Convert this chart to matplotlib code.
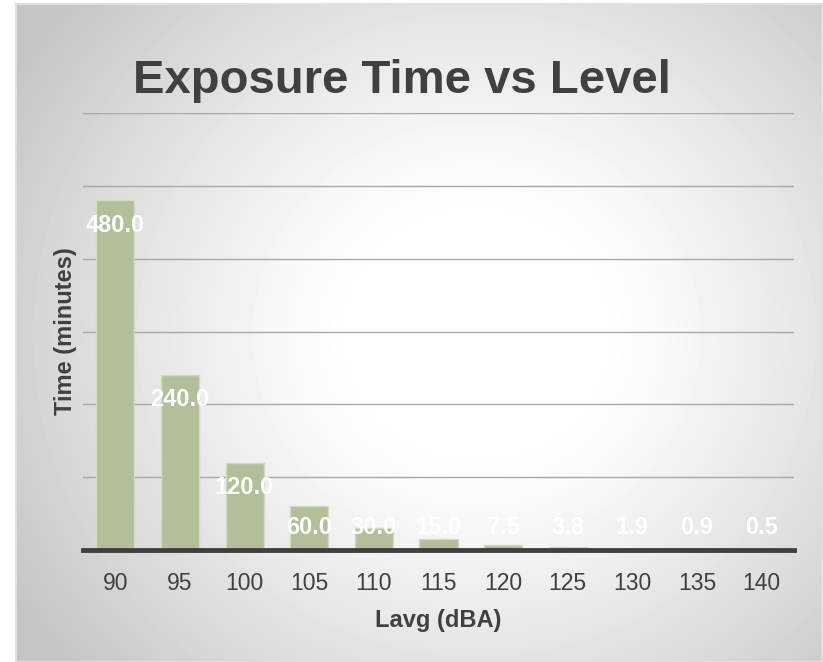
import numpy as np
import matplotlib.pyplot as plt

plt.rcParams['font.family'] = ['Liberation Sans', 'DejaVu Sans']

levels = ["90", "95", "100", "105", "110", "115", "120", "125", "130", "135", "140"]
minutes = [480.0, 240.0, 120.0, 60.0, 30.0, 15.0, 7.5, 3.8, 1.9, 0.9, 0.5]

W, H = 823, 662
fig = plt.figure(figsize=(W / 100, H / 100), dpi=100)
fig.patch.set_facecolor("white")

# radial grey background panel
bg = fig.add_axes([16 / W, 0, (822 - 16) / W, (H - 4) / H], zorder=0)
yy, xx = np.mgrid[0:H - 4, 0:822 - 16]
r = np.hypot((xx - 460) / 1.0, (yy - 330) / 0.95)
t = np.clip((r - 120) / 420, 0, 1)
shade = 1 - 0.23 * t ** 1.2
bg.imshow(shade, cmap="gray", vmin=0, vmax=1, aspect="auto", interpolation="bilinear")
bg.set_xticks([])
bg.set_yticks([])
for s in bg.spines.values():
    s.set_color("#e0e0e0")
    s.set_linewidth(1.5)

ax = fig.add_axes([83 / W, (H - 550) / H, (794 - 83) / W, (550 - 113) / H], zorder=1)
ax.patch.set_alpha(0)
x = np.arange(len(levels))
ax.bar(x, minutes, width=0.59, color="#b2bf98", edgecolor="#d3dbc3", linewidth=1, zorder=2)
ax.set_xlim(-0.5, len(levels) - 0.5)
ax.set_ylim(0, 600)
ax.set_yticks(np.arange(100, 601, 100))
ax.yaxis.grid(True, color="#a8a8a8", linewidth=1)
ax.set_axisbelow(True)
ax.tick_params(axis="y", length=0, labelleft=False)
ax.set_xticks(x)
ax.set_xticklabels(levels, fontsize=16.5, color="#404040")
ax.tick_params(axis="x", length=0, pad=16)
for s in ax.spines.values():
    s.set_visible(False)
ax.axhline(0, color="#404040", linewidth=3.5, zorder=3, clip_on=False)

for xi, v in zip(x, minutes):
    ax.text(xi, max(v - 34, 31), f"{v:.1f}", ha="center", va="center",
            color="white", fontsize=17, fontweight="bold", zorder=4)

ax.set_xlabel("Lavg (dBA)", fontsize=17, fontweight="bold", color="#404040", labelpad=10)
ax.set_ylabel("Time (minutes)", fontsize=17, fontweight="bold", color="#404040", labelpad=4)

fig.text(133 / W, 1 - 81 / H, "Exposure Time vs Level", ha="left", va="center",
         fontsize=34, fontweight="bold", color="#404040")

plt.savefig("out.png", dpi=100)
